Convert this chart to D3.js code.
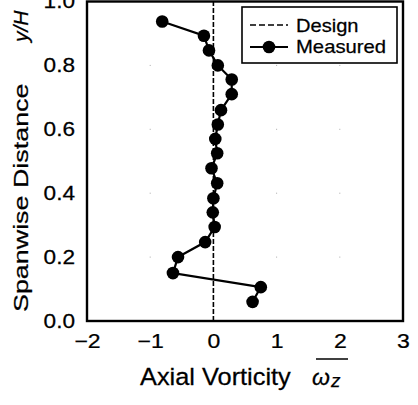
<!DOCTYPE html>
<html><head><meta charset="utf-8">
<script src="https://cdn.jsdelivr.net/npm/d3@7"></script>
<style>body{margin:0;background:#fff}svg{display:block}text{font-family:"Liberation Sans",Arial,sans-serif;fill:#000;stroke:#000;stroke-width:0.25px}</style>
</head><body>
<script>
const spanwise = [0.06,0.106,0.15,0.20,0.247,0.294,0.34,0.384,0.431,0.478,0.525,0.57,0.615,0.66,0.71,0.756,0.80,0.847,0.893,0.9375];
const vorticity = [0.62,0.75,-0.64,-0.56,-0.13,0.02,-0.01,0.00,0.06,-0.03,0.06,0.03,0.07,0.12,0.29,0.29,0.07,-0.07,-0.15,-0.81];
const designValue = 0;
const xTicks = [-2,-1,0,1,2,3];
const yTicks = [0,0.2,0.4,0.6,0.8,1.0];
const seriesNames = ["Design","Measured"];

const W=418,H=405;
const FF="Liberation Sans, Arial, sans-serif";
const svg=d3.select("body").append("svg").attr("width",W).attr("height",H);
const x=d3.scaleLinear().domain([-2,3]).range([87,403]);
const y=d3.scaleLinear().domain([0,1]).range([321,1.5]);

// faint grid dots
const g0=svg.append("g");
xTicks.slice(1,-1).forEach(xv=>yTicks.slice(1,-1).forEach(yv=>{
  if(xv!==0) g0.append("rect").attr("x",x(xv)-0.5).attr("y",y(yv)-0.5).attr("width",1).attr("height",1).attr("fill","#aaa");
}));

// design line
svg.append("line").attr("x1",x(designValue)).attr("x2",x(designValue)).attr("y1",y(0)).attr("y2",y(1))
  .attr("stroke","#000").attr("stroke-width",1.6).attr("stroke-dasharray","5,2");

// measured
const pts=spanwise.map((s,i)=>[vorticity[i],s]);
svg.append("path").attr("d",d3.line().x(d=>x(d[0])).y(d=>y(d[1]))(pts))
  .attr("fill","none").attr("stroke","#000").attr("stroke-width",2.2);
svg.selectAll("circle.m").data(pts).enter().append("circle").attr("class","m")
  .attr("cx",d=>x(d[0])).attr("cy",d=>y(d[1])).attr("r",6.3).attr("fill","#000");

// frame
svg.append("rect").attr("x",x(-2)).attr("y",y(1)).attr("width",x(3)-x(-2)).attr("height",y(0)-y(1))
  .attr("fill","none").attr("stroke","#000").attr("stroke-width",2.4);

// axes
const xa=svg.append("g").attr("transform",`translate(0,${y(0)})`)
  .call(d3.axisBottom(x).tickValues(xTicks).tickSize(0).tickFormat(d3.format("d")));
xa.select(".domain").remove();
xa.selectAll("text").attr("font-size",20).attr("font-family",FF).attr("fill","#000")
  .attr("y",0).attr("dy",0).attr("transform","translate(0,26.5) scale(1.15,1)");
const ya=svg.append("g").attr("transform",`translate(${x(-2)},0)`)
  .call(d3.axisLeft(y).tickValues(yTicks).tickSize(0).tickFormat(d3.format(".1f")));
ya.select(".domain").remove();
ya.selectAll("text").attr("font-size",19.5).attr("font-family",FF).attr("fill","#000")
  .attr("x",0).attr("dy","0.33em").attr("transform","translate(-12,0) scale(1.16,1)");

// x title
svg.append("text").attr("transform","translate(140,385) scale(1.08,1)").attr("font-size",23.5).text("Axial Vorticity");
svg.append("text").attr("x",312).attr("y",385).attr("font-size",23).attr("font-style","italic").text("ω");
svg.append("text").attr("x",331).attr("y",387).attr("font-size",19).attr("font-style","italic").text("z");
svg.append("line").attr("x1",316).attr("x2",348).attr("y1",359).attr("y2",359).attr("stroke","#000").attr("stroke-width",1.5);

// y title
svg.append("text").attr("transform","translate(28,312) rotate(-90) scale(1.28,1)").attr("font-size",21).text("Spanwise Distance");
svg.append("text").attr("transform","translate(28,42) rotate(-90)").attr("font-size",21).attr("font-style","italic").text("y/H");

// legend
const lg=svg.append("g");
lg.append("rect").attr("x",242).attr("y",7).attr("width",155).attr("height",56).attr("fill","#fff").attr("stroke","#000").attr("stroke-width",1.6);
lg.append("line").attr("x1",250).attr("x2",288).attr("y1",25).attr("y2",25).attr("stroke","#000").attr("stroke-width",1.6).attr("stroke-dasharray","6,3");
lg.append("line").attr("x1",250).attr("x2",288).attr("y1",47).attr("y2",47).attr("stroke","#000").attr("stroke-width",2.2);
lg.append("circle").attr("cx",269).attr("cy",47).attr("r",6.3).attr("fill","#000");
lg.append("text").attr("transform","translate(296,32) scale(1.08,1)").attr("font-size",18.6).text(seriesNames[0]);
lg.append("text").attr("transform","translate(296,53) scale(1.09,1)").attr("font-size",18.6).text(seriesNames[1]);
</script>
</body></html>
